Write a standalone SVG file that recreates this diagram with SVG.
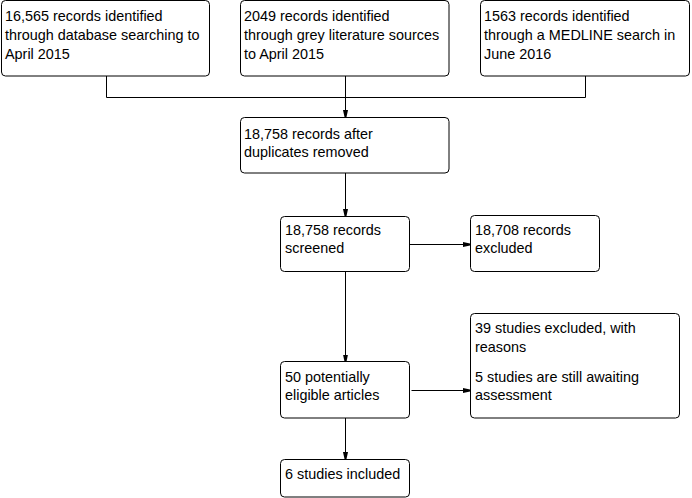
<svg xmlns="http://www.w3.org/2000/svg" width="692" height="498" viewBox="0 0 692 498">
<style>
.box{fill:#fff;stroke:#000;stroke-width:1}
.t{font-family:"Liberation Sans",Arial,sans-serif;font-size:14.4px;fill:#000}
.c{fill:none;stroke:#000;stroke-width:1}
</style>
<defs>
<marker id="ah" viewBox="0 0 7 6" refX="7" refY="3" markerWidth="7" markerHeight="6" markerUnits="userSpaceOnUse" orient="auto">
<path d="M0,0.5 L7,2 L7,4 L0,5.5 z" fill="#000"/>
</marker>
</defs>
<rect width="692" height="498" fill="#fff"/>
<g id="connectors">
<path class="c" d="M106.5,76 V97.5 H585.5 V76"/>
<path class="c" d="M345.5,76 V117" marker-end="url(#ah)"/>
<path class="c" d="M345.5,173 V216" marker-end="url(#ah)"/>
<path class="c" d="M410,244.5 H470" marker-end="url(#ah)"/>
<path class="c" d="M345.5,272 V361.5" marker-end="url(#ah)"/>
<path class="c" d="M411.5,390.5 H470" marker-end="url(#ah)"/>
<path class="c" d="M345.5,418 V459" marker-end="url(#ah)"/>
</g>
<g id="n1">
<rect class="box" x="1.5" y="0.5" width="208" height="75.5" rx="4"/>
<text class="t" x="5" y="21">16,565 records identified</text>
<text class="t" x="5" y="40">through database searching to</text>
<text class="t" x="5" y="59">April 2015</text>
</g>
<g id="n2">
<rect class="box" x="240.5" y="0.5" width="208.5" height="75.5" rx="4"/>
<text class="t" x="244" y="21">2049 records identified</text>
<text class="t" x="244" y="40">through grey literature sources</text>
<text class="t" x="244" y="59">to April 2015</text>
</g>
<g id="n3">
<rect class="box" x="480.5" y="0.5" width="209" height="75.5" rx="4"/>
<text class="t" x="484" y="21">1563 records identified</text>
<text class="t" x="484" y="40">through a MEDLINE search in</text>
<text class="t" x="484" y="59">June 2016</text>
</g>
<g id="n4">
<rect class="box" x="240.5" y="117.5" width="208.5" height="55.5" rx="4"/>
<text class="t" x="244" y="139">18,758 records after</text>
<text class="t" x="244" y="157">duplicates removed</text>
</g>
<g id="n5">
<rect class="box" x="280.5" y="216.5" width="129" height="55" rx="4"/>
<text class="t" x="285" y="235">18,758 records</text>
<text class="t" x="285" y="253">screened</text>
</g>
<g id="n6">
<rect class="box" x="470.5" y="215.5" width="129" height="56" rx="4"/>
<text class="t" x="475" y="235">18,708 records</text>
<text class="t" x="475" y="253">excluded</text>
</g>
<g id="n7">
<rect class="box" x="280.5" y="361.5" width="129" height="56.5" rx="4"/>
<text class="t" x="285" y="382">50 potentially</text>
<text class="t" x="285" y="400">eligible articles</text>
</g>
<g id="n8">
<rect class="box" x="470.5" y="313.5" width="209" height="104.5" rx="4"/>
<text class="t" x="475" y="333">39 studies excluded, with</text>
<text class="t" x="475" y="352">reasons</text>
<text class="t" x="475" y="382">5 studies are still awaiting</text>
<text class="t" x="475" y="400">assessment</text>
</g>
<g id="n9">
<rect class="box" x="280.5" y="459.5" width="129" height="37.5" rx="4"/>
<text class="t" x="285" y="478.5">6 studies included</text>
</g>
</svg>
